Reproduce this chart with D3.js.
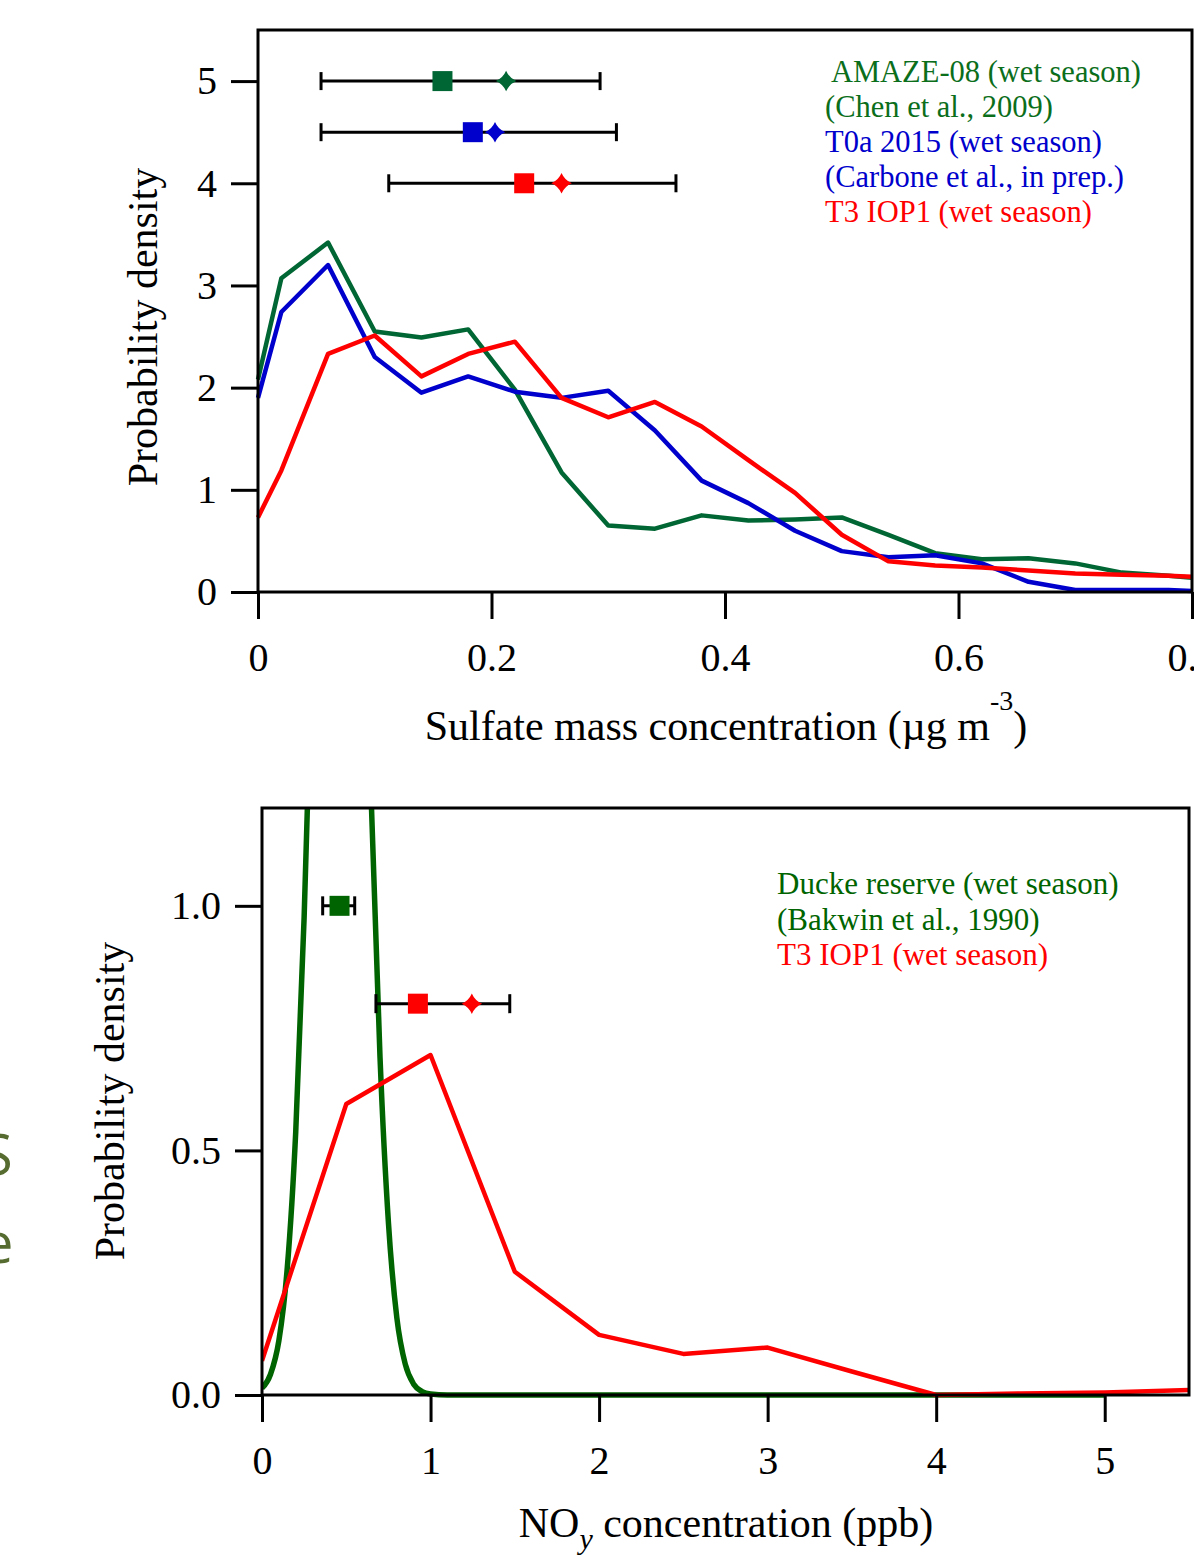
<!DOCTYPE html>
<html>

<head>
    <title>Sulfate and NOy probability density</title>
    <script src="https://cdnjs.cloudflare.com/ajax/libs/d3/7.6.1/d3.min.js"></script>
    <style>
        html,
        body {
            margin: 0;
            padding: 0;
            background-color: white;
        }

        #chart text {
            font-family: 'Liberation Serif', 'Times New Roman', serif;
        }
    </style>
</head>

<body>
    <div id="chart"></div>

    <script>
        // top panel: sulfate
        const sulfateX = [0, 0.02, 0.06, 0.1, 0.14, 0.18, 0.22, 0.26, 0.3, 0.34, 0.38, 0.42, 0.46, 0.5, 0.54, 0.58, 0.62, 0.66, 0.7, 0.74, 0.78, 0.8];
        const amazeDensity = [2.08, 3.07, 3.42, 2.55, 2.49, 2.57, 1.98, 1.17, 0.65, 0.62, 0.75, 0.70, 0.71, 0.73, 0.56, 0.38, 0.32, 0.33, 0.28, 0.19, 0.16, 0.14];
        const t0aDensity = [1.90, 2.74, 3.20, 2.30, 1.95, 2.11, 1.96, 1.90, 1.97, 1.58, 1.09, 0.87, 0.60, 0.40, 0.34, 0.36, 0.28, 0.10, 0.02, 0.02, 0.02, 0.01];
        const t3SulfateDensity = [0.73, 1.19, 2.33, 2.51, 2.11, 2.33, 2.45, 1.90, 1.71, 1.86, 1.62, 1.29, 0.97, 0.56, 0.30, 0.26, 0.24, 0.21, 0.18, 0.17, 0.16, 0.15];
        const sulfateLegend = [" AMAZE-08 (wet season)", "(Chen et al., 2009)", "T0a 2015 (wet season)", "(Carbone et al., in prep.)", "T3 IOP1 (wet season)"];
        // median (square), mean (diamond), error bar low/high, row
        const sulfateStats = [
            { name: "AMAZE-08", median: 0.158, mean: 0.2125, low: 0.054, high: 0.293, row: 5 },
            { name: "T0a", median: 0.184, mean: 0.203, low: 0.054, high: 0.307, row: 4.5 },
            { name: "T3", median: 0.228, mean: 0.26, low: 0.112, high: 0.358, row: 4 }
        ];
        const sulfateXTicks = [0, 0.2, 0.4, 0.6, 0.8];
        const sulfateYTicks = [0, 1, 2, 3, 4, 5];

        // bottom panel: NOy
        const duckeX = [0, 0.05, 0.1, 0.15, 0.2, 0.25, 0.3, 0.35, 0.4, 0.46, 0.5, 0.55, 0.6, 0.65, 0.7, 0.75, 0.8, 0.85, 0.9, 0.95, 1.0, 1.1, 2, 3, 4, 5];
        const duckeDensity = [0.014, 0.042, 0.111, 0.26, 0.537, 0.977, 1.564, 2.205, 2.74, 3.0, 2.88, 2.44, 1.82, 1.197, 0.692, 0.353, 0.158, 0.063, 0.022, 0.007, 0.002, 0, 0, 0, 0, 0];
        const t3NoyX = [0, 0.5, 1, 1.5, 2, 2.5, 3, 3.5, 4, 4.5, 5, 5.5];
        const t3NoyDensity = [0.07, 0.595, 0.695, 0.252, 0.123, 0.084, 0.097, 0.048, 0.0, 0.003, 0.005, 0.01];
        const noyLegend = ["Ducke reserve (wet season)", "(Bakwin et al., 1990)", "T3 IOP1 (wet season)"];
        const noyStats = [
            { name: "Ducke", median: 0.46, mean: null, low: 0.36, high: 0.55, row: 1.0 },
            { name: "T3", median: 0.925, mean: 1.245, low: 0.676, high: 1.47, row: 0.8 }
        ];
        const noyXTicks = [0, 1, 2, 3, 4, 5];
        const noyYTicks = [0, 0.5, 1.0];

        const topGreen = "#006633";
        const legendGreen = "#0b6e1b";
        const blue = "#0000cc";
        const red = "#ff0000";
        const darkGreen = "#006400";

        const svg = d3.select("#chart")
            .append("svg")
            .attr("width", 1194)
            .attr("height", 1565);

        // 4-point star used for the mean markers
        const starFour = {
            draw(context, size) {
                const r = Math.sqrt(size) / 2;
                const c = r * 0.3;
                context.moveTo(0, -r);
                context.quadraticCurveTo(c, -c, r, 0);
                context.quadraticCurveTo(c, c, 0, r);
                context.quadraticCurveTo(-c, c, -r, 0);
                context.quadraticCurveTo(-c, -c, 0, -r);
                context.closePath();
            }
        };

        function drawAxes(g, x, y, xTicks, yTicks, xFormat, yFormat) {
            const [x0, x1] = x.range();
            const [y0, y1] = y.range();

            g.append("g")
                .attr("transform", `translate(0,${y0})`)
                .call(d3.axisBottom(x).tickValues(xTicks).tickFormat(xFormat).tickSize(27).tickSizeOuter(0).tickPadding(24))
                .call(a => a.select(".domain").remove())
                .call(a => a.selectAll("line").attr("stroke", "black").attr("stroke-width", 3))
                .call(a => a.selectAll("text").attr("font-size", 40).attr("fill", "black").attr("font-family", "Liberation Serif"));

            g.append("g")
                .attr("transform", `translate(${x0},0)`)
                .call(d3.axisLeft(y).tickValues(yTicks).tickFormat(yFormat).tickSize(27).tickSizeOuter(0).tickPadding(14))
                .call(a => a.select(".domain").remove())
                .call(a => a.selectAll("line").attr("stroke", "black").attr("stroke-width", 3))
                .call(a => a.selectAll("text").attr("font-size", 40).attr("fill", "black").attr("font-family", "Liberation Serif"));

            g.append("rect")
                .attr("x", x0)
                .attr("y", y1)
                .attr("width", x1 - x0)
                .attr("height", y0 - y1)
                .attr("fill", "none")
                .attr("stroke", "black")
                .attr("stroke-width", 3);
        }

        function drawStats(g, x, y, stats, colors, capHalf) {
            stats.forEach((d, i) => {
                const row = g.append("g");
                row.append("line")
                    .attr("x1", x(d.low)).attr("x2", x(d.high))
                    .attr("y1", y(d.row)).attr("y2", y(d.row))
                    .attr("stroke", "black").attr("stroke-width", 3);
                [d.low, d.high].forEach(v => {
                    row.append("line")
                        .attr("x1", x(v)).attr("x2", x(v))
                        .attr("y1", y(d.row) - capHalf).attr("y2", y(d.row) + capHalf)
                        .attr("stroke", "black").attr("stroke-width", 3);
                });
                row.append("path")
                    .attr("transform", `translate(${x(d.median)},${y(d.row)})`)
                    .attr("d", d3.symbol().type(d3.symbolSquare).size(400)())
                    .attr("fill", colors[i]);
                if (d.mean !== null) {
                    row.append("path")
                        .attr("transform", `translate(${x(d.mean)},${y(d.row)})`)
                        .attr("d", d3.symbol().type(starFour).size(420)())
                        .attr("fill", colors[i]);
                }
            });
        }

        // ---------- top panel ----------
        const xTop = d3.scaleLinear().domain([0, 0.8]).range([258, 1192]);
        const yTop = d3.scaleLinear().domain([0, 5.5]).range([592, 30]);
        const topPanel = svg.append("g");

        const lineTop = d3.line()
            .x((d, i) => xTop(sulfateX[i]))
            .y(d => yTop(d));

        [[amazeDensity, topGreen], [t0aDensity, blue], [t3SulfateDensity, red]].forEach(([series, color]) => {
            topPanel.append("path")
                .datum(series)
                .attr("d", lineTop)
                .attr("fill", "none")
                .attr("stroke", color)
                .attr("stroke-width", 4.5)
                .attr("stroke-linejoin", "round");
        });

        drawAxes(topPanel, xTop, yTop, sulfateXTicks, sulfateYTicks, d => d === 0 ? "0" : d3.format(".1f")(d), d3.format("d"));
        drawStats(topPanel, xTop, yTop, sulfateStats, [topGreen, blue, red], 9);

        const sulfateLegendColors = [legendGreen, legendGreen, blue, blue, red];
        topPanel.append("g")
            .selectAll("text")
            .data(sulfateLegend)
            .enter()
            .append("text")
            .attr("x", 825)
            .attr("y", (d, i) => 82 + i * 35)
            .attr("font-size", 30.5)
            .style("white-space", "pre")
            .attr("fill", (d, i) => sulfateLegendColors[i])
            .text(d => d);

        const sulfateTitle = topPanel.append("text")
            .attr("x", 726)
            .attr("y", 740)
            .attr("text-anchor", "middle")
            .attr("font-size", 42)
            .attr("fill", "black");
        sulfateTitle.append("tspan").text("Sulfate mass concentration (\u00b5g m");
        sulfateTitle.append("tspan").attr("dy", -30).attr("font-size", 28).text("-3");
        sulfateTitle.append("tspan").attr("dy", 30).text(")");

        topPanel.append("text")
            .attr("transform", "translate(157,327) rotate(-90)")
            .attr("text-anchor", "middle")
            .attr("font-size", 42)
            .attr("fill", "black")
            .text("Probability density");

        // ---------- bottom panel ----------
        const xBot = d3.scaleLinear().domain([0, 5.5]).range([262, 1189]);
        const yBot = d3.scaleLinear().domain([0, 1.2]).range([1395, 808]);
        const bottomPanel = svg.append("g");

        bottomPanel.append("clipPath")
            .attr("id", "bot-clip")
            .append("rect")
            .attr("x", 262).attr("y", 808)
            .attr("width", 927).attr("height", 600);

        const lines = bottomPanel.append("g").attr("clip-path", "url(#bot-clip)");

        lines.append("path")
            .datum(duckeDensity)
            .attr("d", d3.line().curve(d3.curveMonotoneX).x((d, i) => xBot(duckeX[i])).y(d => yBot(d)))
            .attr("fill", "none")
            .attr("stroke", darkGreen)
            .attr("stroke-width", 5.5);

        lines.append("path")
            .datum(t3NoyDensity)
            .attr("d", d3.line().x((d, i) => xBot(t3NoyX[i])).y(d => yBot(d)))
            .attr("fill", "none")
            .attr("stroke", red)
            .attr("stroke-width", 4.5)
            .attr("stroke-linejoin", "round");

        drawAxes(bottomPanel, xBot, yBot, noyXTicks, noyYTicks, d3.format("d"), d3.format(".1f"));
        drawStats(bottomPanel, xBot, yBot, noyStats, [darkGreen, red], 9.5);

        const noyLegendColors = [darkGreen, darkGreen, red];
        bottomPanel.append("g")
            .selectAll("text")
            .data(noyLegend)
            .enter()
            .append("text")
            .attr("x", 777)
            .attr("y", (d, i) => 894 + i * 35.5)
            .attr("font-size", 31)
            .attr("fill", (d, i) => noyLegendColors[i])
            .text(d => d);

        const noyTitle = bottomPanel.append("text")
            .attr("x", 726)
            .attr("y", 1537)
            .attr("text-anchor", "middle")
            .attr("font-size", 42)
            .attr("fill", "black");
        noyTitle.append("tspan").text("NO");
        noyTitle.append("tspan").attr("dy", 12).attr("font-size", 30).attr("font-style", "italic").text("y");
        noyTitle.append("tspan").attr("dy", -12).text(" concentration (ppb)");

        bottomPanel.append("text")
            .attr("transform", "translate(124,1101) rotate(-90)")
            .attr("text-anchor", "middle")
            .attr("font-size", 42)
            .attr("fill", "black")
            .text("Probability density");

        // clipped label from the neighbouring figure at the left edge
        svg.append("g")
            .selectAll("text")
            .data(["S", "e"])
            .enter()
            .append("text")
            .attr("x", -18)
            .attr("y", (d, i) => 1175 + i * 88)
            .attr("font-size", 56)
            .style("font-family", "'Open Sans', sans-serif")
            .attr("fill", "#556b2f")
            .text(d => d);
    </script>
</body>

</html>
